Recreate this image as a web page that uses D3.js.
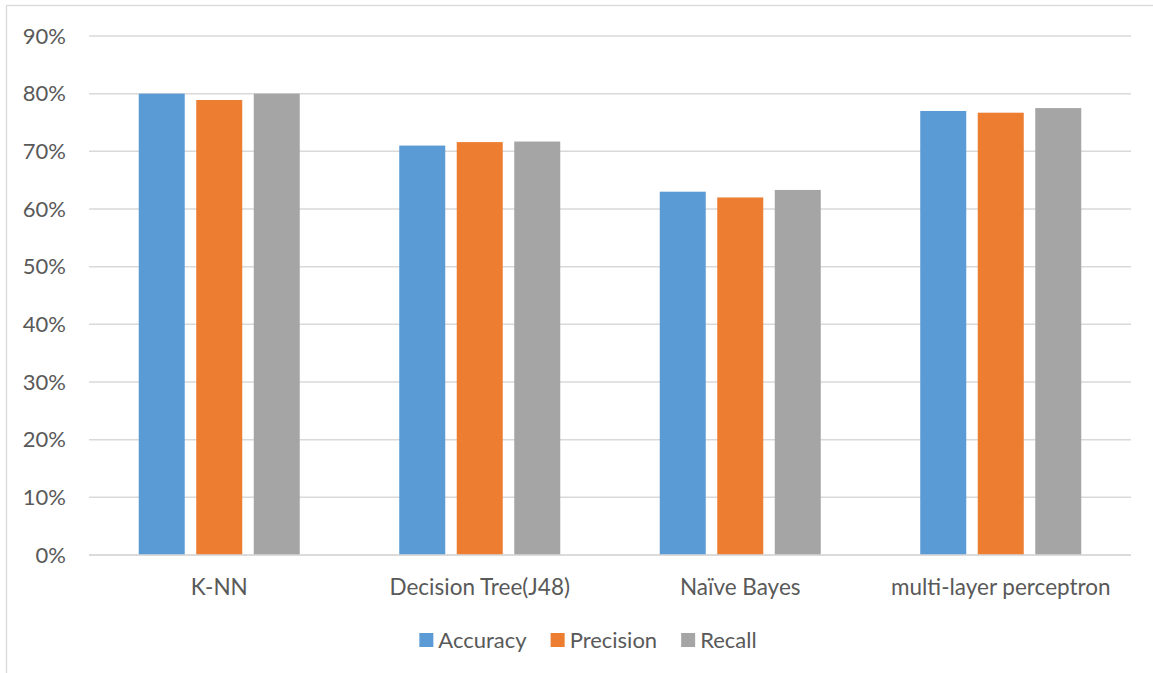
<!DOCTYPE html>
<html>
<head>
<meta charset="utf-8">
<script src="https://cdn.jsdelivr.net/npm/d3@7/dist/d3.min.js"></script>
<style>
  html, body { margin: 0; padding: 0; background: #fff; }
  svg { display: block; }
  text { font-family: Lato, "Open Sans", sans-serif; fill: #595959; }
</style>
</head>
<body>
<svg id="chart" width="1153" height="673"></svg>
<script>
const categories = ["K-NN", "Decision Tree(J48)", "Naïve Bayes", "multi-layer perceptron"];
const seriesNames = ["Accuracy", "Precision", "Recall"];
const accuracy  = [0.800, 0.710, 0.630, 0.770];
const precision = [0.789, 0.716, 0.620, 0.767];
const recall    = [0.800, 0.717, 0.633, 0.775];
const yTicks = [0, 0.1, 0.2, 0.3, 0.4, 0.5, 0.6, 0.7, 0.8, 0.9];
const colors = ["#5B9BD5", "#ED7D31", "#A5A5A5"];

const seriesValues = [accuracy, precision, recall];
const data = categories.map((c, i) => ({
  category: c,
  values: seriesNames.map((s, j) => ({ series: s, value: seriesValues[j][i], color: colors[j] }))
}));

const svg = d3.select("#chart");
const W = 1153, H = 673;
const plot = { left: 89, right: 1131, top: 36, bottom: 555 };
const fontSize = 22;
const catFontSize = 22.5;

// outer frame (only top & left visible in the reference)
svg.append("rect")
  .attr("x", 6.5).attr("y", 5.5)
  .attr("width", W + 20).attr("height", H + 20)
  .attr("fill", "none").attr("stroke", "#D9D9D9").attr("stroke-width", 1.3);

const x = d3.scaleBand().domain(categories).range([plot.left, plot.right]).paddingInner(0).paddingOuter(0);
const xs = d3.scaleBand().domain(seriesNames).range([0, x.bandwidth()]).paddingInner(0.2).paddingOuter(0.865);
const y = d3.scaleLinear().domain([0, 0.9]).range([plot.bottom, plot.top]);

// gridlines
svg.append("g").selectAll("line").data(yTicks).join("line")
  .attr("x1", plot.left).attr("x2", plot.right)
  .attr("y1", d => y(d)).attr("y2", d => y(d))
  .attr("stroke", "#D9D9D9").attr("stroke-width", 1.5);

// y axis labels
const yAxis = d3.axisLeft(y).tickValues(yTicks).tickFormat(d3.format(".0%")).tickSize(0).tickPadding(0);
const gy = svg.append("g").attr("transform", `translate(66,0)`).call(yAxis);
gy.select(".domain").remove();
gy.selectAll("text")
  .attr("font-size", fontSize).attr("font-family", null)
  .style("font-family", "Lato, 'Open Sans', sans-serif")
  .attr("fill", "#595959");

// bars
const groups = svg.append("g").selectAll("g").data(data).join("g")
  .attr("transform", d => `translate(${x(d.category)},0)`);
groups.selectAll("rect").data(d => d.values).join("rect")
  .attr("x", d => xs(d.series))
  .attr("width", xs.bandwidth())
  .attr("y", d => y(d.value))
  .attr("height", d => y(0) - y(d.value))
  .attr("fill", d => d.color);

// x axis line on top of bars
svg.append("line")
  .attr("x1", plot.left).attr("x2", plot.right)
  .attr("y1", y(0)).attr("y2", y(0))
  .attr("stroke", "#D9D9D9").attr("stroke-width", 1.5);

// category labels
const xAxis = d3.axisBottom(x).tickSize(0).tickPadding(0);
const gx = svg.append("g").attr("transform", `translate(0,${plot.bottom})`).call(xAxis);
gx.select(".domain").remove();
gx.selectAll("text")
  .attr("y", 39.5).attr("dy", null)
  .attr("font-size", catFontSize)
  .style("font-family", "Lato, 'Open Sans', sans-serif")
  .attr("fill", "#595959");

// legend
const legend = svg.append("g");
const items = legend.selectAll("g").data(seriesNames).join("g");
items.append("rect").attr("width", 14).attr("height", 14).attr("y", 633)
  .attr("fill", (d, i) => colors[i]);
items.append("text").attr("x", 19).attr("y", 647.5).attr("font-size", fontSize).text(d => d);
let cx = 0;
const widths = [];
items.each(function() {
  const w = 19 + this.querySelector("text").getComputedTextLength();
  widths.push(w);
});
const total = widths.reduce((a, b) => a + b, 0) + 24 * (widths.length - 1);
cx = 588 - total / 2;
items.attr("transform", (d, i) => {
  const t = `translate(${cx},0)`;
  cx += widths[i] + 24;
  return t;
});
</script>
</body>
</html>
